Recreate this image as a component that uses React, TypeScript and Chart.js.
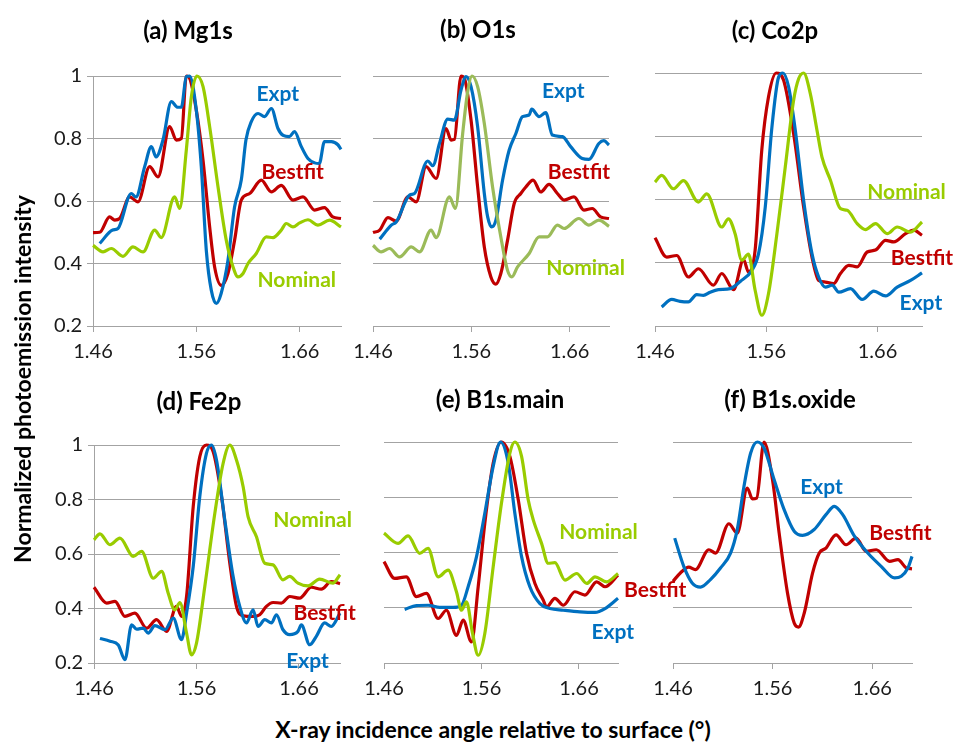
import React, { useEffect, useRef } from 'react';
import { Chart, registerables } from 'chart.js';

Chart.register(...registerables);

// ---------- axes ----------
const X_TICKS = [1.46, 1.56, 1.66];
const Y_TICKS = [0.2, 0.4, 0.6, 0.8, 1];
const X_MIN = 1.46;
const X_MAX = 1.7;
const Y_MIN = 0.2;
const Y_MAX = 1;

const PANEL_TITLES = ['(a) Mg1s', '(b) O1s', '(c) Co2p', '(d) Fe2p', '(e) B1s.main', '(f) B1s.oxide'];
const SERIES_NAMES = ['Expt', 'Bestfit', 'Nominal'];
const X_TITLE = 'X-ray incidence angle relative to surface (\u00B0)';
const Y_TITLE = 'Normalized photoemission intensity';

// ---------- (a) Mg1s ----------
const MG1S_EXPT: [number, number][] = [[1.4665,0.464],[1.479,0.507],[1.4842,0.512],[1.497,0.624],[1.5016,0.613],[1.51,0.71],[1.5165,0.774],[1.521,0.741],[1.5277,0.795],[1.5358,0.918],[1.542,0.9],[1.5455,0.9],[1.5503,0.998],[1.5535,1.0],[1.56,0.89],[1.5648,0.71],[1.5697,0.44],[1.5745,0.314],[1.5794,0.272],[1.584,0.304],[1.5906,0.41],[1.597,0.581],[1.6035,0.667],[1.608,0.795],[1.6132,0.854],[1.6197,0.88],[1.626,0.87],[1.6326,0.896],[1.639,0.832],[1.644,0.81],[1.65,0.806],[1.655,0.822],[1.6616,0.774],[1.668,0.736],[1.6745,0.722],[1.679,0.72],[1.684,0.79],[1.6906,0.79],[1.697,0.78],[1.7,0.765]];
const MG1S_BESTFIT: [number, number][] = [[1.46,0.499],[1.4665,0.5],[1.476,0.549],[1.481,0.539],[1.4858,0.544],[1.4955,0.613],[1.5035,0.597],[1.5148,0.71],[1.5229,0.677],[1.5342,0.838],[1.5406,0.795],[1.5455,0.8],[1.5503,1.0],[1.5535,0.993],[1.56,0.89],[1.5665,0.73],[1.5729,0.517],[1.5777,0.389],[1.5842,0.33],[1.5906,0.368],[1.597,0.474],[1.6035,0.603],[1.6116,0.624],[1.6229,0.667],[1.6326,0.629],[1.6422,0.65],[1.6535,0.603],[1.6632,0.613],[1.6745,0.571],[1.684,0.579],[1.692,0.549],[1.7,0.544]];
const MG1S_NOMINAL: [number, number][] = [[1.46,0.458],[1.4697,0.437],[1.4777,0.448],[1.489,0.423],[1.4987,0.453],[1.5084,0.437],[1.5197,0.507],[1.526,0.483],[1.539,0.613],[1.5439,0.576],[1.5503,0.763],[1.5552,0.934],[1.5606,1.0],[1.5665,0.966],[1.5729,0.838],[1.581,0.645],[1.589,0.474],[1.5955,0.389],[1.6003,0.357],[1.6052,0.368],[1.61,0.4],[1.618,0.432],[1.6277,0.485],[1.6342,0.483],[1.6422,0.507],[1.647,0.528],[1.6535,0.517],[1.66,0.53],[1.668,0.54],[1.6777,0.523],[1.689,0.539],[1.7,0.517]];

// ---------- (b) O1s ----------
const O1S_EXPT: [number, number][] = [[1.4668,0.478],[1.4786,0.523],[1.4836,0.533],[1.4972,0.619],[1.5022,0.624],[1.5157,0.728],[1.5208,0.713],[1.5276,0.784],[1.536,0.862],[1.5428,0.859],[1.5495,0.955],[1.5546,0.998],[1.5597,0.966],[1.5664,0.838],[1.5732,0.624],[1.5766,0.549],[1.5806,0.517],[1.585,0.539],[1.5918,0.667],[1.5985,0.763],[1.6053,0.816],[1.612,0.87],[1.6188,0.875],[1.6214,0.894],[1.6289,0.87],[1.6357,0.883],[1.6424,0.811],[1.6526,0.806],[1.661,0.774],[1.6728,0.736],[1.6796,0.733],[1.6897,0.784],[1.6948,0.793],[1.7,0.779]];
const O1S_BESTFIT: [number, number][] = [[1.46,0.499],[1.4668,0.507],[1.4752,0.547],[1.4836,0.536],[1.4955,0.613],[1.5039,0.597],[1.514,0.71],[1.5242,0.672],[1.5343,0.832],[1.5394,0.795],[1.5428,0.797],[1.5495,1.0],[1.5529,0.993],[1.5597,0.859],[1.5664,0.645],[1.5732,0.453],[1.5799,0.357],[1.585,0.334],[1.59,0.368],[1.5968,0.474],[1.6036,0.592],[1.6103,0.624],[1.6154,0.645],[1.6228,0.667],[1.6306,0.629],[1.639,0.653],[1.6475,0.624],[1.6543,0.603],[1.6644,0.613],[1.6745,0.571],[1.683,0.576],[1.6914,0.549],[1.7,0.544]];
const O1S_NOMINAL: [number, number][] = [[1.46,0.458],[1.4684,0.437],[1.4769,0.448],[1.487,0.421],[1.4989,0.453],[1.5073,0.437],[1.5191,0.507],[1.5242,0.483],[1.5377,0.613],[1.5438,0.576],[1.5512,0.816],[1.5563,0.95],[1.5607,1.0],[1.5664,0.966],[1.5732,0.848],[1.5816,0.645],[1.59,0.485],[1.5968,0.378],[1.6012,0.357],[1.607,0.389],[1.6188,0.432],[1.6289,0.485],[1.6374,0.485],[1.6475,0.523],[1.6543,0.512],[1.6694,0.544],[1.6796,0.523],[1.6897,0.539],[1.7,0.519]];

// ---------- (c) Co2p ----------
const CO2P_EXPT: [number, number][] = [[1.466,0.26],[1.475,0.284],[1.4825,0.278],[1.49,0.276],[1.4975,0.299],[1.5035,0.297],[1.5095,0.307],[1.517,0.315],[1.5276,0.318],[1.5366,0.341],[1.5471,0.376],[1.5531,0.429],[1.5591,0.576],[1.5651,0.829],[1.5711,0.987],[1.575,1.0],[1.5801,0.956],[1.5861,0.819],[1.5936,0.597],[1.6011,0.429],[1.6071,0.355],[1.6131,0.323],[1.6192,0.329],[1.6252,0.307],[1.6357,0.318],[1.6462,0.284],[1.6567,0.31],[1.6672,0.295],[1.6777,0.323],[1.6897,0.344],[1.7,0.368]];
const CO2P_BESTFIT: [number, number][] = [[1.46,0.479],[1.4705,0.418],[1.4795,0.423],[1.49,0.355],[1.499,0.381],[1.5125,0.329],[1.52,0.366],[1.5306,0.315],[1.5396,0.41],[1.544,0.371],[1.55,0.44],[1.556,0.757],[1.562,0.924],[1.569,1.0],[1.5756,0.977],[1.5846,0.808],[1.5936,0.576],[1.6011,0.418],[1.6071,0.344],[1.6131,0.339],[1.6206,0.334],[1.6267,0.366],[1.6342,0.392],[1.6417,0.387],[1.6507,0.434],[1.6582,0.44],[1.6672,0.471],[1.6747,0.466],[1.6852,0.492],[1.6927,0.503],[1.7,0.487]];
const CO2P_NOMINAL: [number, number][] = [[1.46,0.655],[1.466,0.676],[1.4765,0.634],[1.4855,0.66],[1.499,0.592],[1.5065,0.618],[1.52,0.513],[1.526,0.539],[1.532,0.492],[1.538,0.408],[1.544,0.427],[1.55,0.313],[1.556,0.234],[1.562,0.302],[1.5696,0.492],[1.5771,0.703],[1.5846,0.914],[1.5891,0.982],[1.5936,1.0],[1.5996,0.935],[1.6056,0.819],[1.6101,0.734],[1.6177,0.661],[1.6267,0.571],[1.6327,0.566],[1.6417,0.524],[1.6492,0.505],[1.6582,0.524],[1.6687,0.492],[1.6777,0.513],[1.6897,0.497],[1.7,0.529]];

// ---------- (d) Fe2p ----------
const FE2P_EXPT: [number, number][] = [[1.4658,0.29],[1.4756,0.28],[1.4837,0.266],[1.4902,0.212],[1.4967,0.34],[1.5016,0.324],[1.508,0.328],[1.5129,0.31],[1.5194,0.337],[1.5292,0.322],[1.5373,0.365],[1.5454,0.286],[1.5503,0.383],[1.5568,0.554],[1.5632,0.811],[1.5697,0.969],[1.5746,1.0],[1.5795,0.945],[1.5876,0.725],[1.5957,0.518],[1.6022,0.408],[1.6087,0.347],[1.6152,0.395],[1.6201,0.334],[1.6266,0.359],[1.6331,0.347],[1.638,0.377],[1.6444,0.322],[1.6509,0.304],[1.659,0.316],[1.6623,0.34],[1.6704,0.267],[1.6769,0.298],[1.685,0.347],[1.6915,0.334],[1.7,0.383]];
const FE2P_BESTFIT: [number, number][] = [[1.46,0.478],[1.4723,0.42],[1.4805,0.426],[1.4902,0.371],[1.4999,0.383],[1.5113,0.328],[1.521,0.359],[1.5308,0.316],[1.5405,0.408],[1.5454,0.371],[1.5503,0.444],[1.5568,0.774],[1.5632,0.957],[1.5697,1.0],[1.5762,0.976],[1.5844,0.811],[1.5925,0.566],[1.599,0.408],[1.6055,0.373],[1.6152,0.371],[1.6217,0.377],[1.6282,0.408],[1.6347,0.422],[1.6428,0.42],[1.6509,0.444],[1.6606,0.438],[1.672,0.478],[1.6818,0.471],[1.6915,0.499],[1.7,0.491]];
const FE2P_NOMINAL: [number, number][] = [[1.46,0.652],[1.4658,0.674],[1.4756,0.634],[1.4853,0.658],[1.4983,0.591],[1.5064,0.61],[1.5178,0.511],[1.526,0.536],[1.5324,0.456],[1.5389,0.395],[1.5438,0.422],[1.5503,0.31],[1.5551,0.23],[1.56,0.273],[1.5681,0.481],[1.5779,0.75],[1.586,0.933],[1.5925,1.0],[1.599,0.945],[1.6055,0.847],[1.6103,0.737],[1.6184,0.664],[1.6266,0.566],[1.6347,0.56],[1.6444,0.505],[1.6509,0.518],[1.659,0.493],[1.6688,0.483],[1.6801,0.508],[1.6931,0.493],[1.7,0.524]];

// ---------- (e) B1s.main ----------
const B1SM_EXPT: [number, number][] = [[1.4812,0.394],[1.4932,0.408],[1.5052,0.409],[1.5172,0.401],[1.5309,0.401],[1.5395,0.409],[1.5463,0.476],[1.5549,0.585],[1.5634,0.742],[1.572,0.912],[1.5795,1.0],[1.5874,0.924],[1.5942,0.742],[1.6011,0.585],[1.6096,0.476],[1.6199,0.415],[1.6302,0.397],[1.6439,0.391],[1.661,0.385],[1.6764,0.383],[1.6867,0.397],[1.7,0.434]];
const B1SM_BESTFIT: [number, number][] = [[1.46,0.567],[1.471,0.506],[1.4829,0.512],[1.4932,0.44],[1.5035,0.452],[1.5155,0.361],[1.524,0.391],[1.5343,0.3],[1.5412,0.355],[1.5497,0.276],[1.5566,0.476],[1.5634,0.706],[1.572,0.924],[1.5805,1.0],[1.5891,0.948],[1.5977,0.791],[1.6062,0.597],[1.6148,0.488],[1.6233,0.428],[1.6268,0.403],[1.6353,0.434],[1.6439,0.409],[1.6558,0.458],[1.6661,0.446],[1.6781,0.494],[1.6867,0.476],[1.7,0.518]];
const B1SM_NOMINAL: [number, number][] = [[1.46,0.67],[1.4744,0.633],[1.4847,0.66],[1.4966,0.597],[1.5052,0.615],[1.5155,0.512],[1.5258,0.536],[1.5343,0.458],[1.5395,0.391],[1.5446,0.421],[1.5508,0.307],[1.5566,0.228],[1.5634,0.307],[1.572,0.549],[1.5805,0.779],[1.5891,0.96],[1.5942,1.0],[1.6011,0.948],[1.6079,0.791],[1.6131,0.718],[1.6216,0.633],[1.6284,0.561],[1.6353,0.563],[1.6456,0.5],[1.6576,0.524],[1.6679,0.488],[1.6764,0.512],[1.6884,0.494],[1.7,0.524]];

// ---------- (f) B1s.oxide ----------
const B1SO_EXPT: [number, number][] = [[1.4617,0.652],[1.4708,0.55],[1.4792,0.49],[1.4876,0.475],[1.4976,0.502],[1.5077,0.544],[1.5178,0.598],[1.5245,0.683],[1.5313,0.84],[1.538,0.96],[1.5447,1.0],[1.5514,0.978],[1.5615,0.864],[1.5716,0.755],[1.5817,0.677],[1.5901,0.662],[1.6018,0.683],[1.6136,0.737],[1.622,0.767],[1.6304,0.737],[1.6422,0.659],[1.6556,0.598],[1.669,0.55],[1.6825,0.508],[1.6892,0.514],[1.6959,0.544],[1.7,0.586]];
const B1SO_BESTFIT: [number, number][] = [[1.46,0.496],[1.4674,0.526],[1.4758,0.547],[1.4825,0.538],[1.496,0.61],[1.5027,0.598],[1.5161,0.704],[1.5245,0.67],[1.5346,0.833],[1.5397,0.794],[1.544,0.797],[1.5514,1.0],[1.5599,0.864],[1.5666,0.67],[1.575,0.453],[1.5817,0.345],[1.5861,0.33],[1.5918,0.381],[1.6002,0.526],[1.6069,0.598],[1.6136,0.616],[1.6237,0.664],[1.6338,0.628],[1.6439,0.652],[1.654,0.604],[1.6641,0.61],[1.6775,0.568],[1.6859,0.574],[1.6943,0.544],[1.7,0.541]];

// ---------- series label anchors (data units) ----------
const LABELS_A: [string, number, number][] = [['Expt', 1.6388, 0.942], ['Bestfit', 1.6533, 0.692], ['Nominal', 1.6572, 0.346]];
const LABELS_B: [string, number, number][] = [['Expt', 1.6535, 0.95], ['Bestfit', 1.6694, 0.693], ['Nominal', 1.6762, 0.384]];
const LABELS_C: [string, number, number][] = [['Nominal', 1.6861, 0.624], ['Bestfit', 1.7, 0.413], ['Expt', 1.699, 0.271]];
const LABELS_D: [string, number, number][] = [['Nominal', 1.6733, 0.725], ['Bestfit', 1.685, 0.383], ['Expt', 1.6684, 0.206]];
const LABELS_E: [string, number, number][] = [['Nominal', 1.68, 0.675], ['Bestfit', 1.7382, 0.464], ['Expt', 1.6947, 0.31]];
const LABELS_F: [string, number, number][] = [['Expt', 1.6092, 0.837], ['Bestfit', 1.6884, 0.671]];

// ---------- styles ----------
const COLORS: Record<string, string> = { Expt: '#0070C0', Bestfit: '#C00000', Nominal: '#99CC00' };
const NOMINAL_B_COLOR = '#9BBB59';
const GRID = '#A3A3A3';
const FONT = 'Lato, Carlito, Calibri, "Open Sans", sans-serif';
const TICK_SIZE = 20;
const TITLE_SIZE = 24;
const LABEL_SIZE = 21;
const AXIS_TITLE_SIZE = 23;

const AX_W = 64;
const AX_H = 45;
const PAD_T = 60;

type Panel = {
  title: string;
  series: { name: string; points: [number, number][]; color: string }[];
  labels: [string, number, number][];
  box: { L: number; T: number; R: number; B: number };
  titlePos: [number, number];
  showY: boolean;
  padR: number;
};

const PANELS: Panel[] = [
  {
    title: PANEL_TITLES[0],
    series: [
      { name: SERIES_NAMES[2], points: MG1S_NOMINAL, color: COLORS.Nominal },
      { name: SERIES_NAMES[0], points: MG1S_EXPT, color: COLORS.Expt },
      { name: SERIES_NAMES[1], points: MG1S_BESTFIT, color: COLORS.Bestfit },
    ],
    labels: LABELS_A, box: { L: 93, T: 76, R: 341, B: 326 }, titlePos: [188, 31], showY: true, padR: 40,
  },
  {
    title: PANEL_TITLES[1],
    series: [
      { name: SERIES_NAMES[2], points: O1S_NOMINAL, color: NOMINAL_B_COLOR },
      { name: SERIES_NAMES[0], points: O1S_EXPT, color: COLORS.Expt },
      { name: SERIES_NAMES[1], points: O1S_BESTFIT, color: COLORS.Bestfit },
    ],
    labels: LABELS_B, box: { L: 373, T: 76, R: 609, B: 326 }, titlePos: [478, 30], showY: false, padR: 40,
  },
  {
    title: PANEL_TITLES[2],
    series: [
      { name: SERIES_NAMES[2], points: CO2P_NOMINAL, color: COLORS.Nominal },
      { name: SERIES_NAMES[0], points: CO2P_EXPT, color: COLORS.Expt },
      { name: SERIES_NAMES[1], points: CO2P_BESTFIT, color: COLORS.Bestfit },
    ],
    labels: LABELS_C, box: { L: 655, T: 73, R: 922, B: 326 }, titlePos: [775, 31], showY: false, padR: 36,
  },
  {
    title: PANEL_TITLES[3],
    series: [
      { name: SERIES_NAMES[2], points: FE2P_NOMINAL, color: COLORS.Nominal },
      { name: SERIES_NAMES[0], points: FE2P_EXPT, color: COLORS.Expt },
      { name: SERIES_NAMES[1], points: FE2P_BESTFIT, color: COLORS.Bestfit },
    ],
    labels: LABELS_D, box: { L: 94, T: 445, R: 340, B: 663 }, titlePos: [199, 402], showY: true, padR: 40,
  },
  {
    title: PANEL_TITLES[4],
    series: [
      { name: SERIES_NAMES[2], points: B1SM_NOMINAL, color: COLORS.Nominal },
      { name: SERIES_NAMES[0], points: B1SM_EXPT, color: COLORS.Expt },
      { name: SERIES_NAMES[1], points: B1SM_BESTFIT, color: COLORS.Bestfit },
    ],
    labels: LABELS_E, box: { L: 384, T: 442, R: 618, B: 663 }, titlePos: [500, 400], showY: false, padR: 80,
  },
  {
    title: PANEL_TITLES[5],
    series: [
      { name: SERIES_NAMES[0], points: B1SO_EXPT, color: COLORS.Expt },
      { name: SERIES_NAMES[1], points: B1SO_BESTFIT, color: COLORS.Bestfit },
    ],
    labels: LABELS_F, box: { L: 673, T: 442, R: 912, B: 663 }, titlePos: [790, 400], showY: false, padR: 46,
  },
];

const textPlugin = {
  id: 'panelText',
  afterDatasetsDraw(chart: any, _args: any, opts: any) {
    const { ctx, scales } = chart;
    ctx.save();
    ctx.textAlign = 'center';
    ctx.textBaseline = 'middle';
    ctx.font = `bold ${LABEL_SIZE}px ${FONT}`;
    (opts.labels as [string, number, number][]).forEach(([text, x, y]) => {
      ctx.fillStyle = COLORS[text];
      ctx.fillText(text, scales.x.getPixelForValue(x), scales.y.getPixelForValue(y));
    });
    ctx.fillStyle = '#000';
    ctx.font = `bold ${TITLE_SIZE}px ${FONT}`;
    ctx.fillText(opts.title, opts.tx, opts.ty);
    ctx.restore();
  },
};

function PanelChart({ p }: { p: Panel }) {
  const ref = useRef<HTMLCanvasElement | null>(null);
  const left = p.box.L - AX_W;
  const top = p.box.T - PAD_T;
  const width = p.box.R - p.box.L + AX_W + p.padR;
  const height = p.box.B - p.box.T + PAD_T + AX_H;

  useEffect(() => {
    if (!ref.current) return;
    const chart = new Chart(ref.current, {
      type: 'line',
      data: {
        datasets: p.series.map((s) => ({
          label: s.name,
          data: s.points.map(([x, y]) => ({ x, y })),
          borderColor: s.color,
          backgroundColor: s.color,
          borderWidth: 3.2,
          pointRadius: 0,
          cubicInterpolationMode: 'monotone' as const,
          fill: false,
          clip: false as any,
        })),
      },
      options: {
        animation: false,
        responsive: false,
        maintainAspectRatio: false,
        events: [],
        layout: { padding: { left: 0, top: PAD_T, right: p.padR, bottom: 0 } },
        plugins: {
          legend: { display: false },
          tooltip: { enabled: false },
          title: { display: false },
          panelText: { labels: p.labels, title: p.title, tx: p.titlePos[0] - left, ty: p.titlePos[1] - top },
        } as any,
        scales: {
          x: {
            type: 'linear',
            min: X_MIN,
            max: X_MAX,
            afterBuildTicks: (s: any) => { s.ticks = X_TICKS.map((v) => ({ value: v })); },
            afterFit: (s: any) => { s.height = AX_H; },
            grid: { drawOnChartArea: false, drawTicks: true, tickLength: 6, color: GRID, lineWidth: 1 },
            border: { display: true, color: GRID, width: 1 },
            ticks: {
              font: { family: FONT, size: TICK_SIZE },
              color: '#1a1a1a',
              padding: 8,
              maxRotation: 0,
              autoSkip: false,
              callback: (v: any) => Number(v).toFixed(2),
            },
          },
          y: {
            type: 'linear',
            min: Y_MIN,
            max: Y_MAX,
            afterBuildTicks: (s: any) => { s.ticks = Y_TICKS.map((v) => ({ value: v })); },
            afterFit: (s: any) => { s.width = AX_W; },
            grid: { color: GRID, lineWidth: 1, drawTicks: p.showY, tickLength: 6 },
            border: { display: p.showY, color: GRID, width: 1 },
            ticks: {
              display: p.showY,
              font: { family: FONT, size: TICK_SIZE },
              color: '#1a1a1a',
              padding: 5,
              autoSkip: false,
              callback: (v: any) => String(Number(v)),
            },
          },
        },
      },
      plugins: [textPlugin],
    } as any);
    return () => chart.destroy();
  }, []);

  return (
    <canvas
      ref={ref}
      width={width}
      height={height}
      style={{ position: 'absolute', left, top, width, height }}
    />
  );
}

export default function App() {
  return (
    <div style={{ position: 'absolute', left: 0, top: 0, width: 958, height: 744, background: '#fff', overflow: 'hidden' }}>
      {PANELS.map((p, i) => (
        <PanelChart key={i} p={p} />
      ))}
      <div
        style={{
          position: 'absolute', left: 23 - 250, top: 379 - 15, width: 500, height: 30,
          lineHeight: '30px', textAlign: 'center', transform: 'rotate(-90deg)',
          font: `bold ${AXIS_TITLE_SIZE}px ${FONT}`, color: '#000', whiteSpace: 'nowrap',
        }}
      >
        {Y_TITLE}
      </div>
      <div
        style={{
          position: 'absolute', left: 493 - 300, top: 730 - 15, width: 600, height: 30,
          lineHeight: '30px', textAlign: 'center',
          font: `bold ${AXIS_TITLE_SIZE}px ${FONT}`, color: '#000', whiteSpace: 'nowrap',
        }}
      >
        {X_TITLE}
      </div>
    </div>
  );
}
